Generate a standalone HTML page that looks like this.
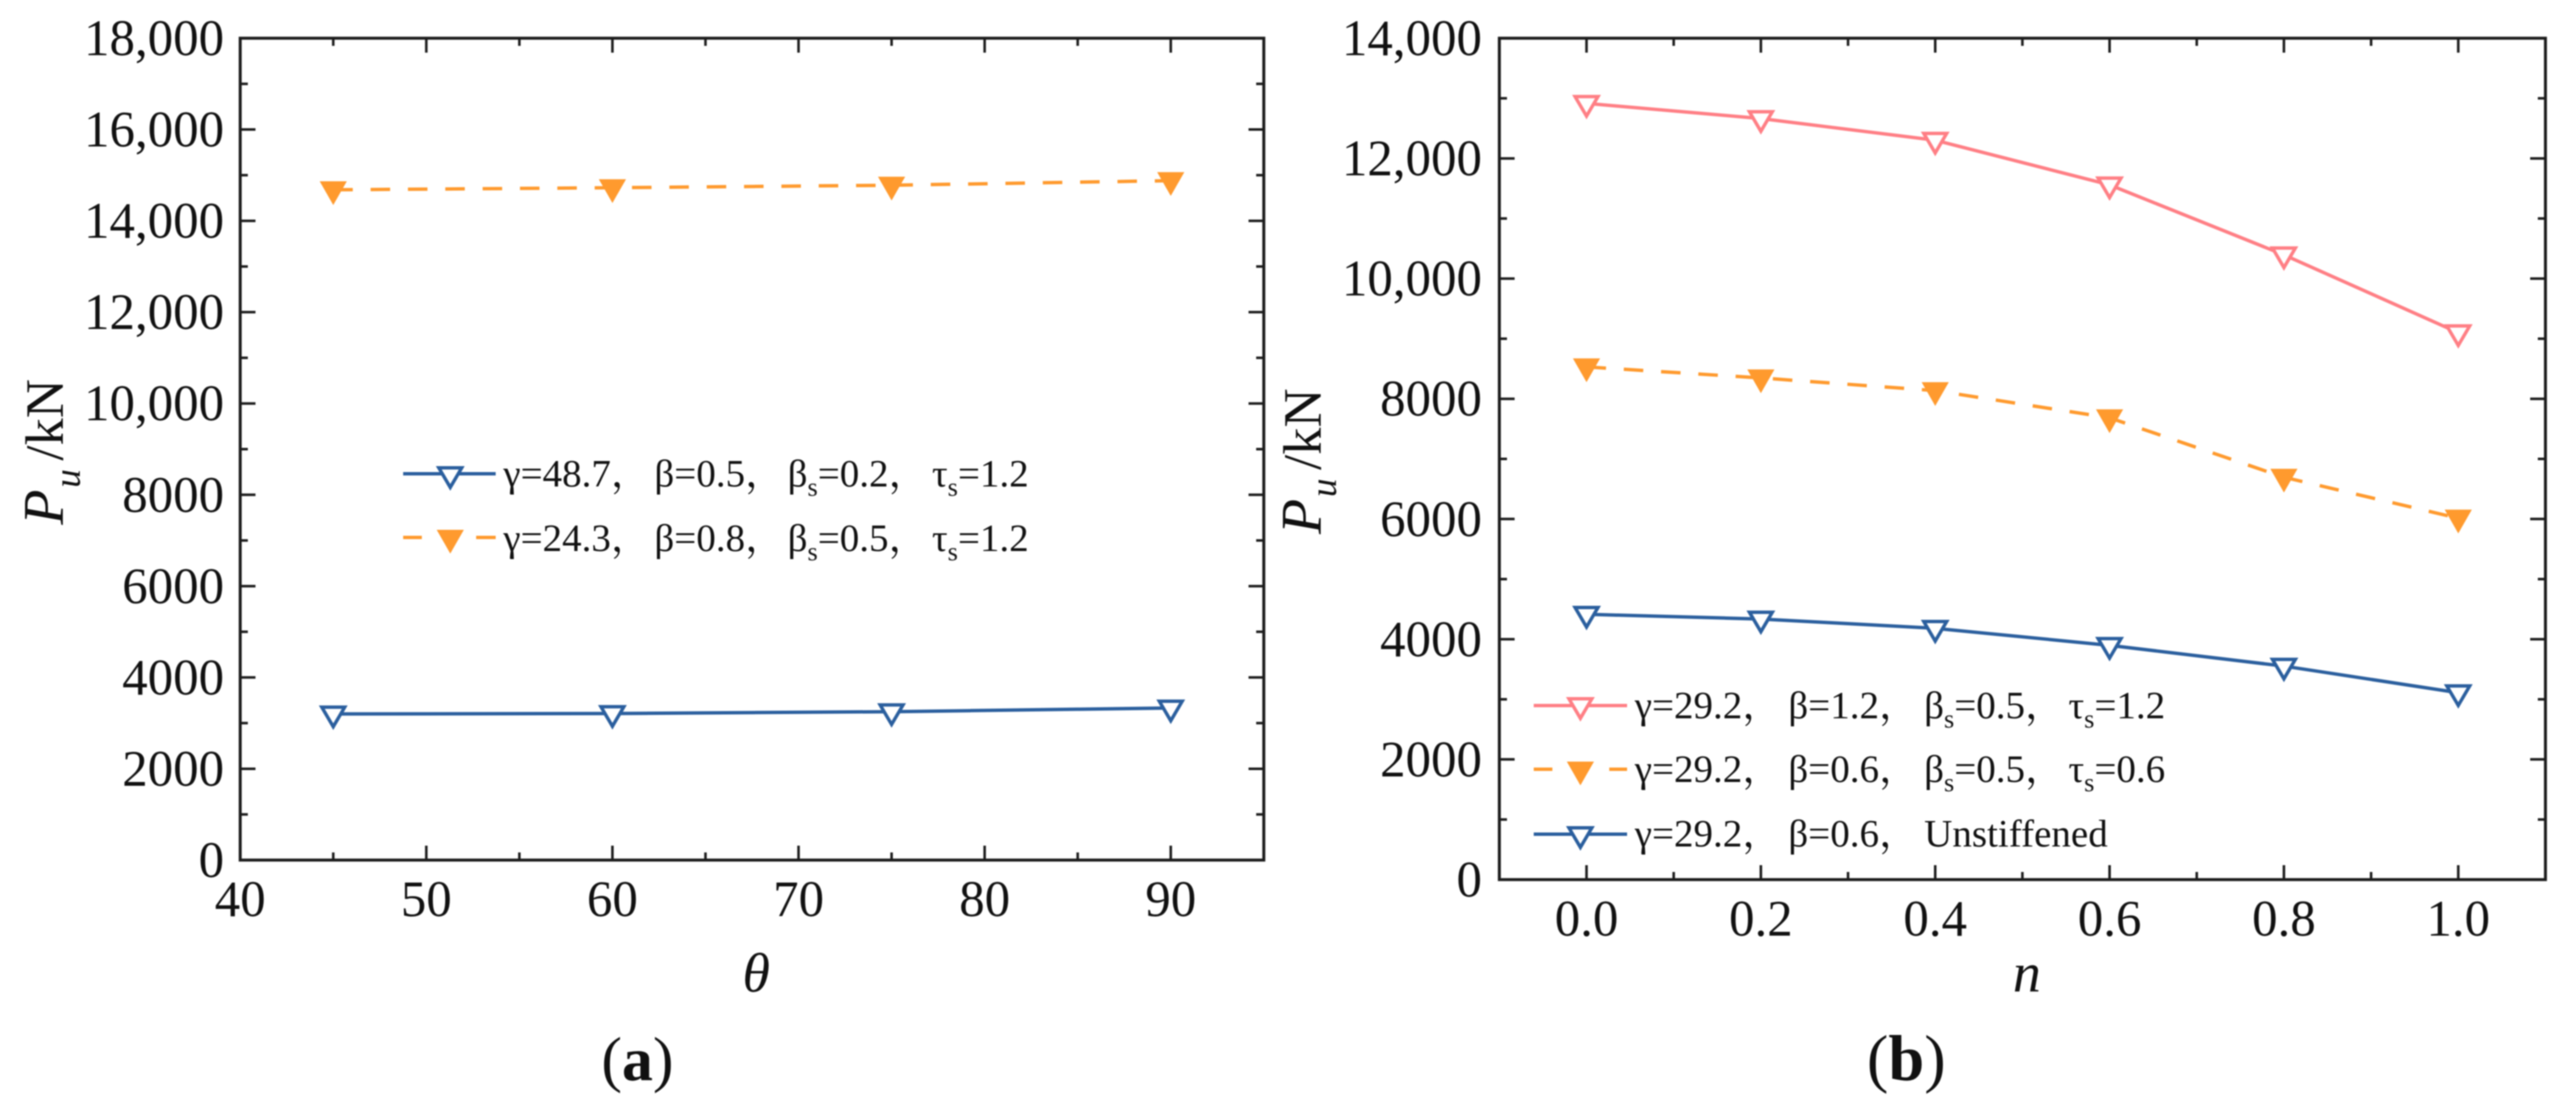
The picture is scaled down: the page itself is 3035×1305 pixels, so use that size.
<!DOCTYPE html>
<html lang="en">
<head>
<meta charset="utf-8">
<title>Pu versus theta and n</title>
<style>
html,body{margin:0;padding:0;background:#fff;width:3035px;height:1305px;overflow:hidden}
svg{display:block;filter:blur(0.9px)}
text{font-family:"Liberation Serif","Noto Serif CJK SC",serif;fill:#111}
.tick{font-size:60px}
.leg{font-size:46px}
.sub{font-size:31px}
</style>
</head>
<body>
<svg id="figure" xmlns="http://www.w3.org/2000/svg" width="3035" height="1305" viewBox="0 0 3035 1305">
  <rect x="0" y="0" width="3035" height="1305" fill="#fff"/>
  <g id="panel-a"></g>
  <g id="panel-b"></g>

  <text transform="translate(74,618) rotate(-90)" font-size="64"><tspan font-style="italic" font-size="68">P</tspan><tspan font-style="italic" font-size="44" dy="20" dx="2">u</tspan><tspan dy="-20" dx="10">/kN</tspan></text>
  <text x="891" y="1168" font-size="66" font-style="italic" text-anchor="middle">θ</text>
  <text x="751" y="1272" font-size="73" text-anchor="middle">(<tspan font-weight="bold">a</tspan>)</text>

  <text transform="translate(1556,629) rotate(-90)" font-size="64"><tspan font-style="italic" font-size="68">P</tspan><tspan font-style="italic" font-size="44" dy="18" dx="2">u</tspan><tspan dy="-18" dx="10">/kN</tspan></text>
  <text x="2388" y="1168" font-size="66" font-style="italic" text-anchor="middle">n</text>
  <text x="2246" y="1272" font-size="76" text-anchor="middle">(<tspan font-weight="bold">b</tspan>)</text>

  <g>
    <g>
      <line x1="475" y1="558" x2="584" y2="558" stroke="#2B5F9E" stroke-width="4"/>
      <polygon points="517,551 544,551 530.5,574" fill="#fff" stroke="#2B5F9E" stroke-width="4"/>
      <text class="leg" y="573"><tspan x="593">γ=48.7，</tspan><tspan x="771">β=0.5，</tspan><tspan x="928">β</tspan><tspan class="sub" dy="11">s</tspan><tspan dy="-11">=0.2，</tspan><tspan x="1098">τ</tspan><tspan class="sub" dy="11">s</tspan><tspan dy="-11">=1.2</tspan></text>
    </g>
    <g>
      <line x1="475" y1="633" x2="497" y2="633" stroke="#FF9A2E" stroke-width="4"/>
      <line x1="561" y1="633" x2="584" y2="633" stroke="#FF9A2E" stroke-width="4"/>
      <polygon points="514.5,624 546.5,624 530.5,652" fill="#FF9A2E"/>
      <text class="leg" y="649"><tspan x="593">γ=24.3，</tspan><tspan x="771">β=0.8，</tspan><tspan x="928">β</tspan><tspan class="sub" dy="11">s</tspan><tspan dy="-11">=0.5，</tspan><tspan x="1098">τ</tspan><tspan class="sub" dy="11">s</tspan><tspan dy="-11">=1.2</tspan></text>
    </g>
  </g>

  <g>
    <g>
      <line x1="1807" y1="831" x2="1917" y2="831" stroke="#FF7F85" stroke-width="4"/>
      <polygon points="1848.5,823 1875.5,823 1862,846" fill="#fff" stroke="#FF7F85" stroke-width="4"/>
      <text class="leg" y="846"><tspan x="1926">γ=29.2，</tspan><tspan x="2107">β=1.2，</tspan><tspan x="2267">β</tspan><tspan class="sub" dy="11">s</tspan><tspan dy="-11">=0.5，</tspan><tspan x="2437">τ</tspan><tspan class="sub" dy="11">s</tspan><tspan dy="-11">=1.2</tspan></text>
    </g>
    <g>
      <line x1="1807" y1="906" x2="1829" y2="906" stroke="#FF9A2E" stroke-width="4"/>
      <line x1="1896" y1="906" x2="1917" y2="906" stroke="#FF9A2E" stroke-width="4"/>
      <polygon points="1846,897 1878,897 1862,925" fill="#FF9A2E"/>
      <text class="leg" y="921"><tspan x="1926">γ=29.2，</tspan><tspan x="2107">β=0.6，</tspan><tspan x="2267">β</tspan><tspan class="sub" dy="11">s</tspan><tspan dy="-11">=0.5，</tspan><tspan x="2437">τ</tspan><tspan class="sub" dy="11">s</tspan><tspan dy="-11">=0.6</tspan></text>
    </g>
    <g>
      <line x1="1807" y1="982.5" x2="1917" y2="982.5" stroke="#2B5F9E" stroke-width="4"/>
      <polygon points="1848.5,975 1875.5,975 1862,998" fill="#fff" stroke="#2B5F9E" stroke-width="4"/>
      <text class="leg" y="997"><tspan x="1926">γ=29.2，</tspan><tspan x="2107">β=0.6，</tspan><tspan x="2267">Unstiffened</tspan></text>
    </g>
  </g>
</svg>

<script>
const thetaCategories = [45, 60, 75, 90];
const panelABlueValues = [3200, 3210, 3250, 3330];
const panelAOrangeValues = [14680, 14725, 14780, 14880];
const panelAXTicks = [40, 50, 60, 70, 80, 90];
const panelAXMinorTicks = [45, 55, 65, 75, 85];
const panelAXTickLabels = ['40', '50', '60', '70', '80', '90'];
const panelAYTicks = [0, 2000, 4000, 6000, 8000, 10000, 12000, 14000, 16000, 18000];
const panelAYMinorTicks = [1000, 3000, 5000, 7000, 9000, 11000, 13000, 15000, 17000];
const panelAYTickLabels = ['0', '2000', '4000', '6000', '8000', '10,000', '12,000', '14,000', '16,000', '18,000'];

const nCategories = [0, 0.2, 0.4, 0.6, 0.8, 1];
const panelBPinkValues = [12916, 12663, 12303, 11560, 10395, 9100];
const panelBOrangeValues = [8531, 8347, 8136, 7684, 6695, 6014];
const panelBBlueValues = [4414, 4336, 4181, 3898, 3552, 3110];
const panelBXTicks = [0, 0.2, 0.4, 0.6, 0.8, 1];
const panelBXMinorTicks = [0.1, 0.3, 0.5, 0.7, 0.9];
const panelBXTickLabels = ['0.0', '0.2', '0.4', '0.6', '0.8', '1.0'];
const panelBYTicks = [0, 2000, 4000, 6000, 8000, 10000, 12000, 14000];
const panelBYMinorTicks = [1000, 3000, 5000, 7000, 9000, 11000, 13000];
const panelBYTickLabels = ['0', '2000', '4000', '6000', '8000', '10,000', '12,000', '14,000'];

const SVGNS = 'http://www.w3.org/2000/svg';
const BLUE = '#2B5F9E', ORANGE = '#FF9A2E', PINK = '#FF7F85', AXIS = '#1c1c1c';

function scale(d0, d1, r0, r1) {
  return function (v) { return r0 + (v - d0) / (d1 - d0) * (r1 - r0); };
}
function make(parent, tag) {
  const el = document.createElementNS(SVGNS, tag);
  parent.appendChild(el);
  return el;
}
function setAll(el, props) {
  Object.keys(props).forEach(function (k) { el.setAttribute(k, props[k]); });
}

function drawAxes(g, box, x, y, cfg) {
  const frame = make(g, 'rect');
  setAll(frame, { x: box.left, y: box.top, width: box.right - box.left, height: box.bottom - box.top, fill: 'none', stroke: AXIS, 'stroke-width': 3.5 });
  
  

  function xTick(v, len) {
    [[box.bottom, -1], [box.top, 1]].forEach(function (p) {
      const t = make(g, 'line');
      setAll(t, { x1: x(v), x2: x(v), y1: p[0], y2: p[0] + p[1] * len, stroke: AXIS, 'stroke-width': 3 });
      
      
    });
  }
  function yTick(v, len) {
    [[box.left, 1], [box.right, -1]].forEach(function (p) {
      const t = make(g, 'line');
      setAll(t, { x1: p[0], x2: p[0] + p[1] * len, y1: y(v), y2: y(v), stroke: AXIS, 'stroke-width': 3 });
      
      
    });
  }
  cfg.xTicks.forEach(function (v, i) {
    xTick(v, 17);
    const label = make(g, 'text');
    setAll(label, { x: x(v), y: cfg.xLabelY, 'text-anchor': 'middle', class: 'tick' });
    label.textContent = cfg.xLabels[i];
    
    
  });
  cfg.xMinor.forEach(function (v) { xTick(v, 9); });
  cfg.yTicks.forEach(function (v, i) {
    yTick(v, 18);
    const label = make(g, 'text');
    setAll(label, { x: cfg.yLabelX, y: y(v) + 20, 'text-anchor': 'end', class: 'tick' });
    label.textContent = cfg.yLabels[i];
    
    
  });
  cfg.yMinor.forEach(function (v) { yTick(v, 9); });
}

function drawSeries(g, xs, values, x, y, color, dashed, filled, name) {
  const line = make(g, 'polyline');
  const pts = xs.map(function (v, i) { return x(v) + ',' + y(values[i]); }).join(' ');
  setAll(line, { points: pts, fill: 'none', stroke: color, 'stroke-width': 4, 'stroke-linejoin': 'round' });
  if (dashed) { line.setAttribute('stroke-dasharray', '23 21'); }
  
  
  xs.forEach(function (v, i) {
    const cx = x(v), cy = y(values[i]);
    const m = make(g, 'polygon');
    if (filled) {
      setAll(m, { points: (cx - 16) + ',' + (cy - 10) + ' ' + (cx + 16) + ',' + (cy - 10) + ' ' + cx + ',' + (cy + 18), fill: color });
    } else {
      setAll(m, { points: (cx - 13.5) + ',' + (cy - 8) + ' ' + (cx + 13.5) + ',' + (cy - 8) + ' ' + cx + ',' + (cy + 15), fill: '#fff', stroke: color, 'stroke-width': 4 });
    }
    
    
  });
}

/* Panel (a) */
const boxA = { left: 283, right: 1489, top: 45, bottom: 1013 };
const xA = scale(40, 95, boxA.left, boxA.right);
const yA = scale(0, 18000, boxA.bottom, boxA.top);
const gA = document.getElementById('panel-a');
drawAxes(gA, boxA, xA, yA, {
  xTicks: panelAXTicks, xMinor: panelAXMinorTicks, xLabels: panelAXTickLabels, xLabelY: 1079,
  yTicks: panelAYTicks, yMinor: panelAYMinorTicks, yLabels: panelAYTickLabels, yLabelX: 264
});
drawSeries(gA, thetaCategories, panelAOrangeValues, xA, yA, ORANGE, true, true, 'series-orange-a');
drawSeries(gA, thetaCategories, panelABlueValues, xA, yA, BLUE, false, false, 'series-blue-a');

/* Panel (b) */
const boxB = { left: 1766.5, right: 2999, top: 45, bottom: 1036 };
const xB = scale(-0.1, 1.1, boxB.left, boxB.right);
const yB = scale(0, 14000, boxB.bottom, boxB.top);
const gB = document.getElementById('panel-b');
drawAxes(gB, boxB, xB, yB, {
  xTicks: panelBXTicks, xMinor: panelBXMinorTicks, xLabels: panelBXTickLabels, xLabelY: 1102,
  yTicks: panelBYTicks, yMinor: panelBYMinorTicks, yLabels: panelBYTickLabels, yLabelX: 1746
});
drawSeries(gB, nCategories, panelBPinkValues, xB, yB, PINK, false, false, 'series-pink-b');
drawSeries(gB, nCategories, panelBOrangeValues, xB, yB, ORANGE, true, true, 'series-orange-b');
drawSeries(gB, nCategories, panelBBlueValues, xB, yB, BLUE, false, false, 'series-blue-b');
</script>
</body>
</html>
